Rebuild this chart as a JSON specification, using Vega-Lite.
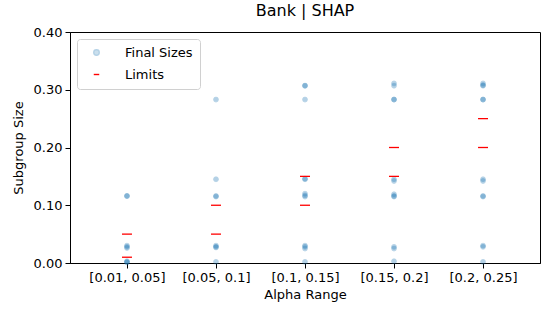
{
  "$schema": "https://vega.github.io/schema/vega-lite/v6.json",
  "width": 470,
  "height": 231,
  "autosize": "none",
  "padding": {"left": 70, "top": 32, "right": 5, "bottom": 53},
  "background": "white",
  "config": {
    "font": "DejaVu Sans",
    "view": {"stroke": "black", "strokeWidth": 1},
    "axis": {"grid": false, "domainColor": "black", "tickColor": "black", "labelColor": "black", "titleColor": "black", "labelFontSize": 13, "titleFontSize": 13, "titleFontWeight": "normal", "tickSize": 5, "labelPadding": 3}
  },
  "title": {"text": "Bank | SHAP", "fontSize": 16, "fontWeight": "normal", "color": "black", "offset": 7},
  "datasets": {
    "sizes": [
      {"alpha": "[0.01, 0.05]", "size": 0.116, "series": "Final Sizes"},
      {"alpha": "[0.01, 0.05]", "size": 0.116, "series": "Final Sizes"},
      {"alpha": "[0.01, 0.05]", "size": 0.030, "series": "Final Sizes"},
      {"alpha": "[0.01, 0.05]", "size": 0.028, "series": "Final Sizes"},
      {"alpha": "[0.01, 0.05]", "size": 0.026, "series": "Final Sizes"},
      {"alpha": "[0.01, 0.05]", "size": 0.003, "series": "Final Sizes"},
      {"alpha": "[0.01, 0.05]", "size": 0.002, "series": "Final Sizes"},
      {"alpha": "[0.01, 0.05]", "size": 0.001, "series": "Final Sizes"},
      {"alpha": "[0.05, 0.1]", "size": 0.283, "series": "Final Sizes"},
      {"alpha": "[0.05, 0.1]", "size": 0.145, "series": "Final Sizes"},
      {"alpha": "[0.05, 0.1]", "size": 0.116, "series": "Final Sizes"},
      {"alpha": "[0.05, 0.1]", "size": 0.115, "series": "Final Sizes"},
      {"alpha": "[0.05, 0.1]", "size": 0.030, "series": "Final Sizes"},
      {"alpha": "[0.05, 0.1]", "size": 0.028, "series": "Final Sizes"},
      {"alpha": "[0.05, 0.1]", "size": 0.027, "series": "Final Sizes"},
      {"alpha": "[0.05, 0.1]", "size": 0.002, "series": "Final Sizes"},
      {"alpha": "[0.1, 0.15]", "size": 0.307, "series": "Final Sizes"},
      {"alpha": "[0.1, 0.15]", "size": 0.307, "series": "Final Sizes"},
      {"alpha": "[0.1, 0.15]", "size": 0.283, "series": "Final Sizes"},
      {"alpha": "[0.1, 0.15]", "size": 0.146, "series": "Final Sizes"},
      {"alpha": "[0.1, 0.15]", "size": 0.145, "series": "Final Sizes"},
      {"alpha": "[0.1, 0.15]", "size": 0.120, "series": "Final Sizes"},
      {"alpha": "[0.1, 0.15]", "size": 0.117, "series": "Final Sizes"},
      {"alpha": "[0.1, 0.15]", "size": 0.115, "series": "Final Sizes"},
      {"alpha": "[0.1, 0.15]", "size": 0.030, "series": "Final Sizes"},
      {"alpha": "[0.1, 0.15]", "size": 0.028, "series": "Final Sizes"},
      {"alpha": "[0.1, 0.15]", "size": 0.025, "series": "Final Sizes"},
      {"alpha": "[0.1, 0.15]", "size": 0.002, "series": "Final Sizes"},
      {"alpha": "[0.15, 0.2]", "size": 0.311, "series": "Final Sizes"},
      {"alpha": "[0.15, 0.2]", "size": 0.307, "series": "Final Sizes"},
      {"alpha": "[0.15, 0.2]", "size": 0.283, "series": "Final Sizes"},
      {"alpha": "[0.15, 0.2]", "size": 0.283, "series": "Final Sizes"},
      {"alpha": "[0.15, 0.2]", "size": 0.145, "series": "Final Sizes"},
      {"alpha": "[0.15, 0.2]", "size": 0.142, "series": "Final Sizes"},
      {"alpha": "[0.15, 0.2]", "size": 0.119, "series": "Final Sizes"},
      {"alpha": "[0.15, 0.2]", "size": 0.116, "series": "Final Sizes"},
      {"alpha": "[0.15, 0.2]", "size": 0.115, "series": "Final Sizes"},
      {"alpha": "[0.15, 0.2]", "size": 0.028, "series": "Final Sizes"},
      {"alpha": "[0.15, 0.2]", "size": 0.025, "series": "Final Sizes"},
      {"alpha": "[0.15, 0.2]", "size": 0.003, "series": "Final Sizes"},
      {"alpha": "[0.2, 0.25]", "size": 0.311, "series": "Final Sizes"},
      {"alpha": "[0.2, 0.25]", "size": 0.308, "series": "Final Sizes"},
      {"alpha": "[0.2, 0.25]", "size": 0.307, "series": "Final Sizes"},
      {"alpha": "[0.2, 0.25]", "size": 0.283, "series": "Final Sizes"},
      {"alpha": "[0.2, 0.25]", "size": 0.283, "series": "Final Sizes"},
      {"alpha": "[0.2, 0.25]", "size": 0.145, "series": "Final Sizes"},
      {"alpha": "[0.2, 0.25]", "size": 0.142, "series": "Final Sizes"},
      {"alpha": "[0.2, 0.25]", "size": 0.116, "series": "Final Sizes"},
      {"alpha": "[0.2, 0.25]", "size": 0.115, "series": "Final Sizes"},
      {"alpha": "[0.2, 0.25]", "size": 0.030, "series": "Final Sizes"},
      {"alpha": "[0.2, 0.25]", "size": 0.028, "series": "Final Sizes"},
      {"alpha": "[0.2, 0.25]", "size": 0.002, "series": "Final Sizes"}
    ],
    "limits": [
      {"alpha": "[0.01, 0.05]", "limit": 0.05, "series": "Limits"},
      {"alpha": "[0.01, 0.05]", "limit": 0.01, "series": "Limits"},
      {"alpha": "[0.05, 0.1]", "limit": 0.10, "series": "Limits"},
      {"alpha": "[0.05, 0.1]", "limit": 0.05, "series": "Limits"},
      {"alpha": "[0.1, 0.15]", "limit": 0.15, "series": "Limits"},
      {"alpha": "[0.1, 0.15]", "limit": 0.10, "series": "Limits"},
      {"alpha": "[0.15, 0.2]", "limit": 0.20, "series": "Limits"},
      {"alpha": "[0.15, 0.2]", "limit": 0.15, "series": "Limits"},
      {"alpha": "[0.2, 0.25]", "limit": 0.25, "series": "Limits"},
      {"alpha": "[0.2, 0.25]", "limit": 0.20, "series": "Limits"}
    ]
  },
  "encoding": {
    "x": {
      "field": "alpha", "type": "ordinal",
      "sort": ["[0.01, 0.05]", "[0.05, 0.1]", "[0.1, 0.15]", "[0.15, 0.2]", "[0.2, 0.25]"],
      "scale": {"type": "point", "padding": 0.64},
      "axis": {"title": "Alpha Range", "labelAngle": 0, "titlePadding": 4}
    }
  },
  "layer": [
    {
      "data": {"name": "sizes"},
      "mark": {"type": "point", "filled": false, "size": 24, "strokeWidth": 0.8},
      "encoding": {
        "y": {
          "field": "size", "type": "quantitative",
          "scale": {"domain": [0, 0.4], "nice": false},
          "axis": {"title": "Subgroup Size", "format": ".2f", "values": [0, 0.05, 0.1, 0.15, 0.2, 0.25, 0.3, 0.35, 0.4], "titlePadding": 8}
        },
        "color": {
          "field": "series", "type": "nominal",
          "scale": {"domain": ["Final Sizes", "Limits"], "range": ["#1f77b4", "#ff0000"]},
          "legend": {
            "title": null, "orient": "top-left", "offset": 7,
            "strokeColor": "#d0d0d0", "fillColor": "white", "cornerRadius": 3,
            "padding": 7, "labelFontSize": 13, "labelColor": "black",
            "rowPadding": 8, "labelOffset": 22, "symbolSize": 30, "symbolOffset": 6,
            "symbolStrokeWidth": 1.4
          }
        },
        "fill": {
          "field": "series", "type": "nominal",
          "scale": {"domain": ["Final Sizes", "Limits"], "range": ["#1f77b4", "#ff0000"]}
        },
        "shape": {
          "field": "series", "type": "nominal",
          "scale": {"domain": ["Final Sizes", "Limits"], "range": ["circle", "stroke"]}
        },
        "opacity": {
          "field": "series", "type": "nominal",
          "scale": {"domain": ["Final Sizes", "Limits"], "range": [0.33, 1]}
        }
      }
    },
    {
      "data": {"name": "limits"},
      "mark": {"type": "tick", "orient": "horizontal", "size": 10, "thickness": 1.3},
      "encoding": {
        "y": {"field": "limit", "type": "quantitative"},
        "color": {"field": "series", "type": "nominal"},
        "opacity": {"field": "series", "type": "nominal"}
      }
    }
  ]
}
